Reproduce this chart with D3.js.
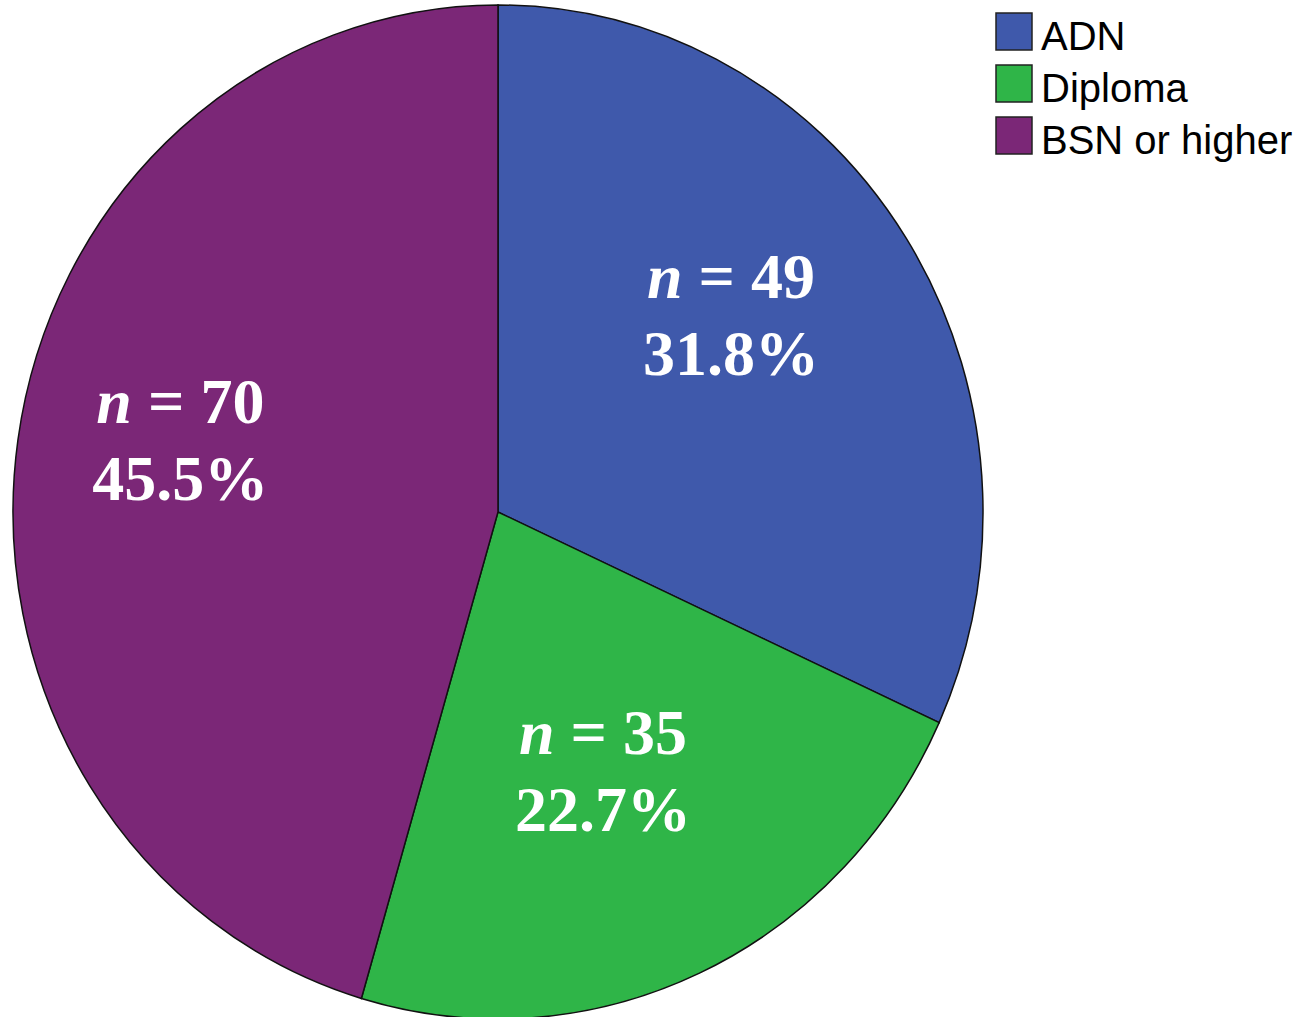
<!DOCTYPE html>
<html>
<head>
<meta charset="utf-8">
<script src="https://cdn.jsdelivr.net/npm/d3@7"></script>
<style>
  body { margin: 0; background: #fff; }
  .lbl { font-family: "Liberation Serif", Tinos, "Times New Roman", Times, serif; font-weight: bold; font-size: 64px; }
</style>
</head>
<body>
<svg id="chart"></svg>
<script>
var width = 1300;
var height = 1017;

// data
var categories = ["ADN", "Diploma", "BSN or higher"];
var counts = [49, 35, 70];
var percents = ["31.8%", "22.7%", "45.5%"];
var colors = ["#3f59ab", "#2fb548", "#7b2777"];

var cx = 498, cy = 512;
var rx = 485, ry = 507;

var svg = d3.select("#chart")
    .attr("width", width)
    .attr("height", height);

var pie = d3.pie()
    .sort(null)
    .value(function (d) { return d; });

var arcs = pie(counts);

var arc = d3.arc()
    .innerRadius(0)
    .outerRadius(rx);

var labelArc = d3.arc()
    .innerRadius(rx * 0.62)
    .outerRadius(rx * 0.62);

// slices, stretched vertically to match the oval
var g = svg.append("g")
    .attr("transform", "translate(" + cx + "," + cy + ") scale(1," + (ry / rx) + ")");

g.selectAll("path")
    .data(arcs)
    .enter().append("path")
    .attr("d", arc)
    .attr("fill", function (d, i) { return colors[i]; })
    .attr("stroke", "#111")
    .attr("stroke-width", 1.5)
    .attr("vector-effect", "non-scaling-stroke");

// labels (shifted a bit up-left of the centroid like the original)
var labels = svg.append("g")
    .attr("transform", "translate(" + (cx - 20) + "," + (cy - 44) + ")");

var lab = labels.selectAll("text")
    .data(arcs)
    .enter().append("text")
    .attr("class", "lbl")
    .attr("transform", function (d) {
        var c = labelArc.centroid(d);
        return "translate(" + c[0] + "," + (c[1] * ry / rx) + ")";
    })
    .attr("text-anchor", "middle")
    .attr("fill", "#fff");

lab.append("tspan")
    .attr("x", 0)
    .style("font-style", "italic")
    .text("n");
lab.append("tspan")
    .text(function (d, i) { return " = " + counts[i]; });
lab.append("tspan")
    .attr("x", 0)
    .attr("dy", 77)
    .text(function (d, i) { return percents[i]; });

// legend
var legend = svg.append("g")
    .attr("transform", "translate(996,13)");

var item = legend.selectAll("g")
    .data(categories)
    .enter().append("g")
    .attr("transform", function (d, i) { return "translate(0," + (i * 52) + ")"; });

item.append("rect")
    .attr("width", 36)
    .attr("height", 37)
    .attr("fill", function (d, i) { return colors[i]; })
    .attr("stroke", "#222")
    .attr("stroke-width", 1.5);

item.append("text")
    .attr("x", 45)
    .attr("y", 37)
    .style("font-family", "'Liberation Sans', Arial, sans-serif")
    .style("font-size", "40px")
    .attr("fill", "#000")
    .text(function (d) { return d; });
</script>
</body>
</html>
